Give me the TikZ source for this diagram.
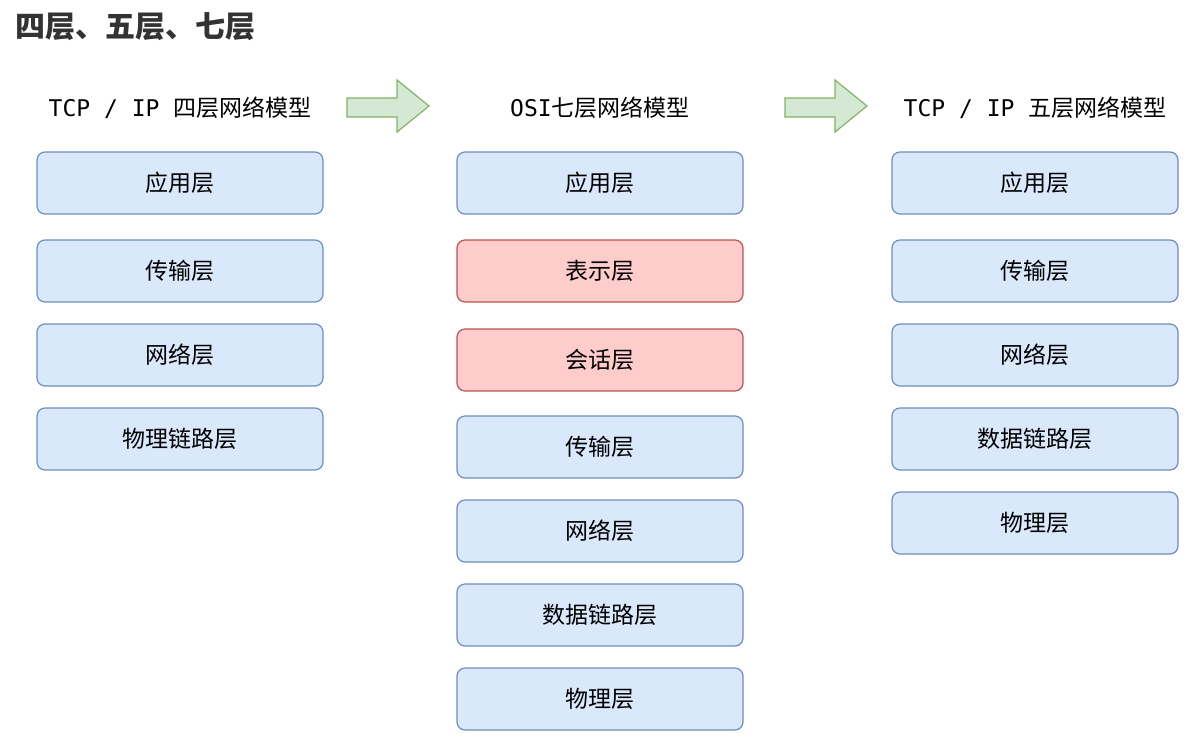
\documentclass[tikz,border=0pt]{standalone}
\usepackage{fontspec}
\setmainfont{Noto Sans CJK SC}
\newfontfamily\monofont{DejaVu Sans Mono}
\usetikzlibrary{positioning}
\definecolor{layerfill}{HTML}{DAE8FC}
\definecolor{layerline}{HTML}{6C8EBF}
\definecolor{extrafill}{HTML}{FFCCCC}
\definecolor{extraline}{HTML}{B85450}
\definecolor{arrowfill}{HTML}{D5E8D4}
\definecolor{arrowline}{HTML}{82B366}
\definecolor{titlegray}{HTML}{333333}

\begin{document}
\begin{tikzpicture}[
    x=1pt, y=-1pt,
    node distance=22pt,
    layer/.style={draw=layerline, fill=layerfill, line width=1.2pt,
        rounded corners=8pt, minimum width=286pt, minimum height=62pt,
        inner sep=0pt, outer sep=0pt, font=\fontsize{23}{26}\selectfont},
    extra/.style={layer, draw=extraline, fill=extrafill},
    header/.style={inner sep=0pt, font=\fontsize{23}{26}\selectfont},
    bigarrow/.style={draw=arrowline, fill=arrowfill, line width=1.2pt}
]
\useasboundingbox (0,0) rectangle (1203,748);

% 标题
\node[anchor=base west, inner sep=0pt, text=titlegray,
      font=\fontsize{30}{34}\selectfont\bfseries] (title) at (15,37) {四层、五层、七层};

% 三个模型的表头
\node[header] (h4) at (180,108) {{\monofont TCP / IP }四层网络模型};
\node[header] (h7) at (600,108) {{\monofont OSI}七层网络模型};
\node[header] (h5) at (1035,108) {{\monofont TCP / IP }五层网络模型};

% 两个箭头
\filldraw[bigarrow] (347,98) -- (397,98) -- (397,80) -- (429,106)
    -- (397,132) -- (397,117) -- (347,117) -- cycle;
\filldraw[bigarrow] (785,98) -- (835,98) -- (835,80) -- (867,106)
    -- (835,132) -- (835,117) -- (785,117) -- cycle;

% TCP/IP 四层
\node[layer] (four1) at (180,183) {应用层};
\node[layer, below=26pt of four1] (four2) {传输层};
\node[layer, below=of four2] (four3) {网络层};
\node[layer, below=of four3] (four4) {物理链路层};

% OSI 七层
\node[layer] (osi1) at (600,183) {应用层};
\node[extra, below=26pt of osi1] (osi2) {表示层};
\node[extra, below=27pt of osi2] (osi3) {会话层};
\node[layer, below=25pt of osi3] (osi4) {传输层};
\node[layer, below=of osi4] (osi5) {网络层};
\node[layer, below=of osi5] (osi6) {数据链路层};
\node[layer, below=of osi6] (osi7) {物理层};

% TCP/IP 五层
\node[layer] (five1) at (1035,183) {应用层};
\node[layer, below=26pt of five1] (five2) {传输层};
\node[layer, below=of five2] (five3) {网络层};
\node[layer, below=of five3] (five4) {数据链路层};
\node[layer, below=of five4] (five5) {物理层};

\end{tikzpicture}
\end{document}
